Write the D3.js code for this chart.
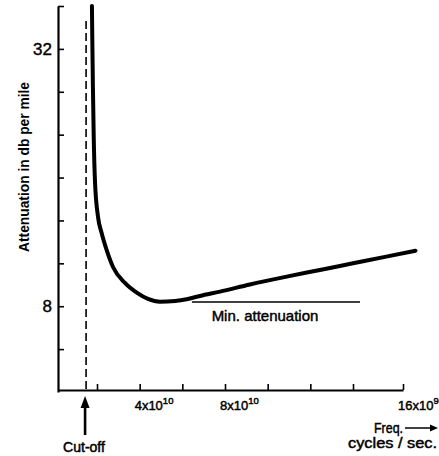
<!DOCTYPE html>
<html><head><meta charset="utf-8">
<script src="https://cdn.jsdelivr.net/npm/d3@7"></script>
<style>body{margin:0;background:#fff}svg{display:block}</style>
</head><body><svg id="c" width="439" height="456"></svg>
<script>
// ---- data ----
const freq = [1.74, 1.76, 1.79, 1.83, 1.9, 2.05, 2.22, 2.45, 2.75, 3.31, 3.88, 4.39, 4.95, 5.66, 6.2, 6.83, 7.77, 9.17, 10.89, 12.45, 14.0, 15.28, 16.5];
const attenuation = [36.0, 32.8, 28.5, 24.0, 19.5, 16.3, 14.8, 13.25, 11.66, 10.17, 9.24, 8.68, 8.42, 8.49, 8.65, 8.96, 9.36, 10.03, 10.76, 11.38, 12.0, 12.6, 13.18];
const yTicks = [4, 8, 12, 16, 20, 24, 28, 32, 36];
const yTickLabels = ["", "8", "", "", "", "", "", "32", ""];
const xTicks = [2, 4, 6, 8, 10, 12, 14, 16];
const xTickBase = ["", "4x10", "", "8x10", "", "", "", "16x10"];
const xTickExp = ["", "10", "", "10", "", "", "", "9"];
const cutoffFreq = 1.44;
const cutoffTop = 34.6;
const minAttenuation = 8.4;
const minLineFrom = 6.45, minLineTo = 14.28;

// ---- scales ----
const svg = d3.select("#c");
const x = d3.scaleLinear().domain([0, 2, 14, 16]).range([58, 97, 353, 403]);
const y = d3.scaleLinear().domain([0, 36]).range([392, 6]);
const font = "'Liberation Sans', Arial, sans-serif";

// y axis
const yAxis = d3.axisLeft(y).tickValues(yTicks).tickSizeInner(-6).tickSizeOuter(0).tickPadding(6)
  .tickFormat((d, i) => yTickLabels[i]);
const gy = svg.append("g").attr("transform", `translate(${x(0)},0)`).call(yAxis);
gy.select(".domain").attr("stroke", "#000").attr("stroke-width", 2.2);
gy.selectAll(".tick line").attr("stroke", "#000").attr("stroke-width", 1.6);
gy.selectAll(".tick text").attr("font-family", font).attr("font-size", 17).attr("fill", "#000")
  .attr("stroke", "#000").attr("stroke-width", 0.4);

// x axis
const xAxis = d3.axisBottom(x).tickValues(xTicks).tickSizeInner(-6).tickSizeOuter(0).tickFormat(() => "");
const gx = svg.append("g").attr("transform", `translate(0,${y(0) - 2})`).call(xAxis);
gx.select(".domain").attr("stroke", "#000").attr("stroke-width", 2.2);
gx.selectAll(".tick line").attr("stroke", "#000").attr("stroke-width", 1.6);

const xl = svg.append("g").attr("font-family", font).attr("fill", "#000");
xTicks.forEach((v, i) => {
  if (!xTickBase[i]) return;
  const t = xl.append("text").attr("x", x(v) - 5).attr("y", 410).attr("font-size", 13)
    .attr("stroke", "#000").attr("stroke-width", 0.45);
  t.append("tspan").text(xTickBase[i]);
  t.append("tspan").attr("dy", -6).attr("font-size", 9.5).text(xTickExp[i]);
});

// cutoff dashed line
svg.append("line").attr("x1", x(cutoffFreq)).attr("x2", x(cutoffFreq))
  .attr("y1", y(cutoffTop)).attr("y2", y(0) - 2)
  .attr("stroke", "#000").attr("stroke-width", 1.6).attr("stroke-dasharray", "8,4");

// min attenuation line
svg.append("line").attr("x1", x(minLineFrom)).attr("x2", x(minLineTo))
  .attr("y1", y(minAttenuation)).attr("y2", y(minAttenuation))
  .attr("stroke", "#000").attr("stroke-width", 1.4);
svg.append("text").attr("x", 265).attr("y", 321).attr("text-anchor", "middle")
  .attr("font-family", font).attr("font-size", 15).attr("stroke", "#000").attr("stroke-width", 0.45)
  .text("Min. attenuation");

// curve
const line = d3.line().x(d => x(d)).y((d, i) => y(attenuation[i])).curve(d3.curveMonotoneX);
svg.append("path").attr("d", line(freq)).attr("fill", "none").attr("stroke", "#000")
  .attr("stroke-width", 4).attr("stroke-linecap", "round");

// y label
svg.append("text").attr("transform", "translate(29,167) rotate(-90)").attr("text-anchor", "middle")
  .attr("font-family", font).attr("font-size", 14).attr("font-weight", "bold")
  .attr("textLength", 170).attr("lengthAdjust", "spacingAndGlyphs")
  .text("Attenuation in db per mile");

// cutoff arrow + label
const ax = x(cutoffFreq) - 1;
svg.append("line").attr("x1", ax).attr("x2", ax).attr("y1", 435).attr("y2", 404)
  .attr("stroke", "#000").attr("stroke-width", 2.6);
svg.append("path").attr("d", `M${ax},396 L${ax - 4.5},408 L${ax + 4.5},408 Z`).attr("fill", "#000");
svg.append("text").attr("x", 84).attr("y", 452).attr("text-anchor", "middle")
  .attr("font-family", font).attr("font-size", 14).attr("stroke", "#000").attr("stroke-width", 0.5)
  .text("Cut-off");

// freq label
svg.append("text").attr("x", 374).attr("y", 433).attr("font-family", font).attr("font-size", 14)
  .attr("stroke", "#000").attr("stroke-width", 0.45).attr("textLength", 29).attr("lengthAdjust", "spacingAndGlyphs")
  .text("Freq.");
svg.append("line").attr("x1", 405).attr("x2", 432).attr("y1", 428).attr("y2", 428)
  .attr("stroke", "#000").attr("stroke-width", 1.5);
svg.append("path").attr("d", "M438,428 L430,424.5 L430,431.5 Z").attr("fill", "#000");
svg.append("text").attr("x", 348).attr("y", 448).attr("font-family", font).attr("font-size", 14)
  .attr("stroke", "#000").attr("stroke-width", 0.45).attr("textLength", 89).attr("lengthAdjust", "spacingAndGlyphs")
  .text("cycles / sec.");
</script></body></html>
